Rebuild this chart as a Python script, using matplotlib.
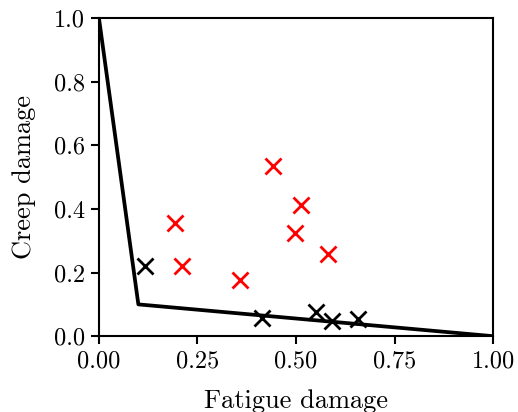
import numpy as np
from matplotlib import pyplot as plt

plt.rcParams['font.family'] = 'serif'
plt.rcParams['font.serif'] = ['cmr10']
plt.rcParams['mathtext.fontset'] = 'cm'
plt.rcParams['axes.formatter.use_mathtext'] = True

# damage envelope
env_fatigue = [0.0, 0.1, 1.0]
env_creep = [1.0, 0.1, 0.0]

# red: failed points, black: survived points
red_fatigue = [0.193, 0.211, 0.358, 0.442, 0.512, 0.498, 0.582]
red_creep = [0.355, 0.222, 0.177, 0.535, 0.414, 0.325, 0.259]
black_fatigue = [0.118, 0.413, 0.550, 0.590, 0.657]
black_creep = [0.221, 0.056, 0.076, 0.047, 0.053]

fig = plt.figure(figsize=(5.18, 4.12), dpi=100)
ax = fig.add_axes([0.191, 0.184, 0.761, 0.772])

ax.plot(env_fatigue, env_creep, color='black', lw=2.7)
ax.plot(red_fatigue, red_creep, 'x', color='red', ms=11, mew=2)
ax.plot(black_fatigue, black_creep, 'x', color='black', ms=11, mew=2)

ax.set_xlim(0, 1)
ax.set_ylim(0, 1)
ax.set_xticks([0, 0.25, 0.5, 0.75, 1.0])
ax.set_yticks(np.arange(0, 1.01, 0.2))
ax.set_xticklabels(['0.00', '0.25', '0.50', '0.75', '1.00'])
ax.set_yticklabels(['0.0', '0.2', '0.4', '0.6', '0.8', '1.0'])
ax.tick_params(labelsize=17.5, width=1.5, length=6, pad=4)
for s in ax.spines.values():
    s.set_linewidth(1.5)
ax.set_xlabel('Fatigue damage', fontsize=19, labelpad=12)
ax.set_ylabel('Creep damage', fontsize=19, labelpad=13)

plt.savefig('out.png', dpi=100)
